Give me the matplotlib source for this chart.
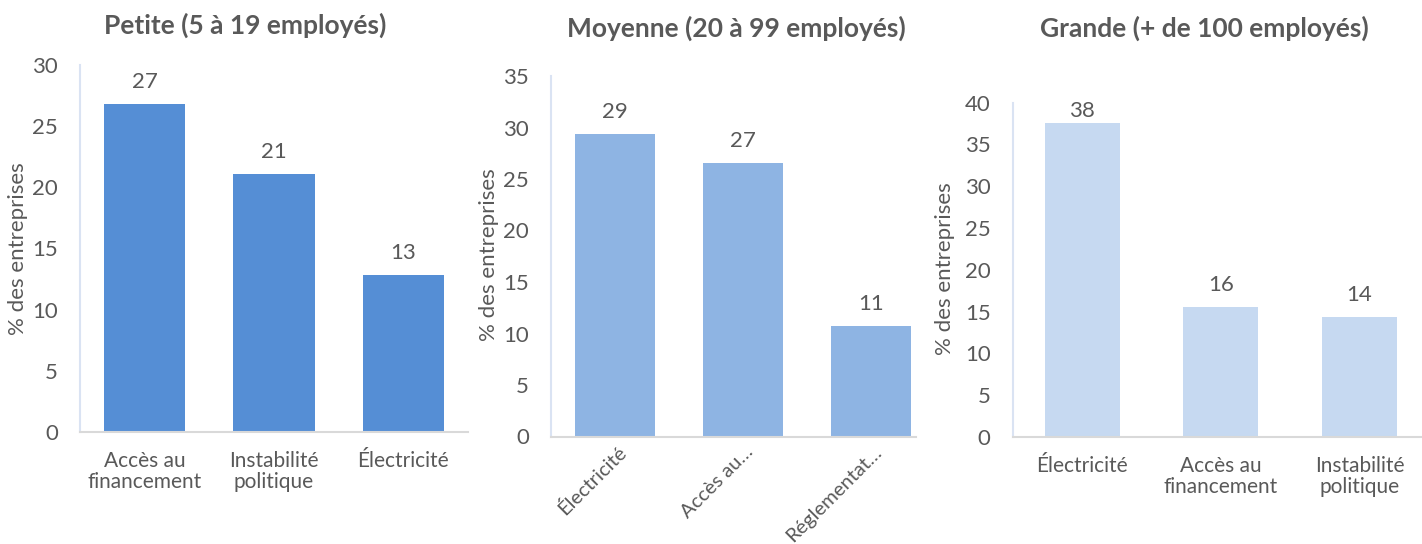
import matplotlib
matplotlib.use("Agg")
import matplotlib.pyplot as plt
from matplotlib.transforms import ScaledTranslation

plt.rcParams['font.family'] = ['Lato', 'DejaVu Sans']

TEXT = '#595959'

petite_cats = ["Accès au\nfinancement", "Instabilité\npolitique", "Électricité"]
petite_vals = [26.8, 21.1, 12.8]
petite_labels = ["27", "21", "13"]

moyenne_cats = ["Électricité", "Accès au…", "Réglementat…"]
moyenne_vals = [29.4, 26.6, 10.7]
moyenne_labels = ["29", "27", "11"]

grande_cats = ["Électricité", "Accès au\nfinancement", "Instabilité\npolitique"]
grande_vals = [37.6, 15.6, 14.3]
grande_labels = ["38", "16", "14"]

titles = ["Petite (5 à 19 employés)", "Moyenne (20 à 99 employés)", "Grande (+ de 100 employés)"]
ylabel = "% des entreprises"

W, H = 1422, 544
fig = plt.figure(figsize=(W / 100, H / 100), dpi=100)

def add_ax(left, right, top, bottom):
    return fig.add_axes([left / W, (H - bottom) / H, (right - left) / W, (bottom - top) / H])

panels = [
    dict(box=(80, 468, 65, 432), cats=petite_cats, vals=petite_vals, labels=petite_labels,
         color='#558ED5', ymax=30, xlim=(-0.5, 2.5), width=0.63, rot=False,
         title_xy=(245, 25), ylab_xy=(18, 249)),
    dict(box=(551, 916, 76, 436.5), cats=moyenne_cats, vals=moyenne_vals, labels=moyenne_labels,
         color='#8EB4E3', ymax=35, xlim=(-0.5, 2.355), width=0.627, rot=True,
         title_xy=(736, 28), ylab_xy=(489, 255)),
    dict(box=(1012.7, 1422, 102.7, 437), cats=grande_cats, vals=grande_vals, labels=grande_labels,
         color='#C6D9F1', ymax=40, xlim=(-0.5, 2.45), width=0.54, rot=False,
         title_xy=(1204, 28), ylab_xy=(945, 269)),
]

for p, title in zip(panels, titles):
    l, r, t, b = p['box']
    ax = add_ax(l, r, t, b)
    x = range(len(p['cats']))
    ax.bar(x, p['vals'], width=p['width'], color=p['color'], zorder=2)
    ax.set_ylim(0, p['ymax'])
    ax.set_xlim(*p['xlim'])
    ax.set_yticks(range(0, p['ymax'] + 1, 5))
    ax.set_xticks(list(x))
    ax.tick_params(axis='y', length=0, pad=16, labelsize=16, labelcolor=TEXT)
    ax.tick_params(axis='x', length=0, labelsize=15, labelcolor=TEXT, pad=14)
    if p['rot']:
        ax.set_xticklabels(p['cats'], rotation=45, ha='right', va='center', rotation_mode='anchor',
                           fontsize=14.5)
        ax.tick_params(axis='x', pad=9)
        shift = ScaledTranslation(8 / 100, 0, fig.dpi_scale_trans)
        for lbl in ax.get_xticklabels():
            lbl.set_transform(lbl.get_transform() + shift)
    else:
        ax.set_xticklabels(p['cats'], linespacing=1.05)
    for s in ['top', 'right']:
        ax.spines[s].set_visible(False)
    ax.spines['left'].set_color('#DAE3F3')
    ax.spines['left'].set_linewidth(1.5)
    ax.spines['bottom'].set_color('#D9D9D9')
    ax.spines['bottom'].set_linewidth(1.5)
    ppu = (b - t) / p['ymax']
    for xi, v, lab in zip(x, p['vals'], p['labels']):
        room = (p['ymax'] - v) * ppu
        gap_px = min(12, room - 18)
        ax.annotate(lab, (xi, v), xytext=(0, gap_px * 0.72), textcoords='offset points',
                    ha='center', va='bottom', fontsize=16, color=TEXT, annotation_clip=False)
    fig.text(p['title_xy'][0] / W, 1 - p['title_xy'][1] / H, title, ha='center', va='center',
             fontsize=19, fontweight='bold', color=TEXT)
    fig.text(p['ylab_xy'][0] / W, 1 - p['ylab_xy'][1] / H, ylabel, rotation=90,
             ha='center', va='center', fontsize=16, color=TEXT)

fig.savefig('out.png', dpi=100)
